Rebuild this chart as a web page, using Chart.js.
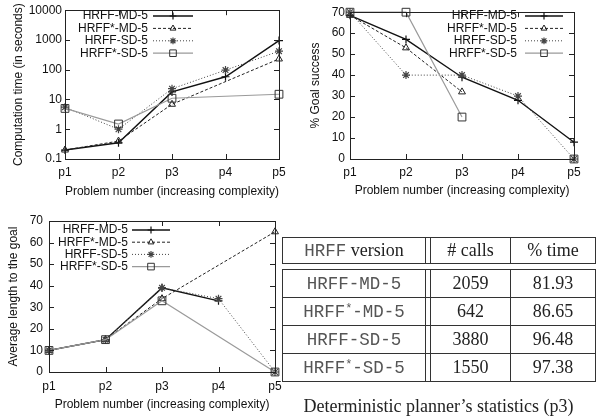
<!DOCTYPE html>
<html>
<head>
<meta charset="utf-8">
<script src="https://cdn.jsdelivr.net/npm/chart.js@4/dist/chart.umd.min.js"></script>
<style>
  html, body { margin: 0; padding: 0; background: #fff; }
  body { width: 597px; height: 417px; position: relative; overflow: hidden; }
  canvas { position: absolute; }
  #tbl { position: absolute; left: 282px; top: 237px; }
  #tbl table { border-collapse: collapse; table-layout: fixed; font-family: "Liberation Serif", serif; font-size: 18px; color: #222; }
  #tbl td { border: 1px solid #333; padding: 0; text-align: center; vertical-align: middle; }
  #tbl .mono { font-family: "Liberation Mono", monospace; font-size: 17.5px; color: #555; }
  #tbl sup { font-size: 12px; vertical-align: 5px; line-height: 0; }
  #caption { position: absolute; left: 282px; width: 313px; top: 396px; text-align: center;
             font-family: "Liberation Serif", serif; font-size: 18px; line-height: 20px; color: #222; }
</style>
</head>
<body>
<canvas id="timeChart" width="300" height="205" style="left:0;top:0"></canvas>
<canvas id="goalChart" width="302" height="205" style="left:295px;top:0"></canvas>
<canvas id="lengthChart" width="300" height="212" style="left:0;top:205px"></canvas>
<div id="tbl"></div>
<div id="caption">Deterministic planner’s statistics (p3)</div>
<script>
// categories
const problems = ['p1', 'p2', 'p3', 'p4', 'p5'];
const seriesNames = ['HRFF-MD-5', 'HRFF*-MD-5', 'HRFF-SD-5', 'HRFF*-SD-5'];

// computation time (seconds, log scale)
const timeTicks = [0.1, 1, 10, 100, 1000, 10000];
const timeMD = [0.2, 0.35, 18, 58, 950];
const timeStarMD = [0.2, 0.4, 6.9, null, 230];
const timeSD = [5.5, 1.0, 23, 97, 420];
const timeStarSD = [5.0, 1.5, 11, null, 15];

// % goal success
const goalMD = [68.5, 57, 39, 28, 8];
const goalStarMD = [68.5, 53, 32, null, null];
const goalSD = [70, 40, 40, 30, 0];
const goalStarSD = [70, 70, 20, null, 0];

// average length to the goal
const lenMD = [10, 15, 39, 33, null];
const lenStarMD = [10, 15, 34, null, 65];
const lenSD = [10, 15, 39, 34, 0];
const lenStarSD = [10, 15, 33, null, 0];

// deterministic planner table
const tableVersions = ['HRFF-MD-5', 'HRFF*-MD-5', 'HRFF-SD-5', 'HRFF*-SD-5'];
const tableCalls = ['2059', '642', '3880', '1550'];
const tableTime = ['81.93', '86.65', '96.48', '97.38'];

const FONT = "'Liberation Sans', Arial, sans-serif";

// line styles per series
const styles = [
    { borderColor: '#111', borderWidth: 1.4, borderDash: [], pointStyle: 'cross', pointRadius: 4, pointBorderWidth: 1.2 },
    { borderColor: '#222', borderWidth: 1, borderDash: [3, 2], pointStyle: 'triangle', pointRadius: 4, pointBorderWidth: 1 },
    { borderColor: '#444', borderWidth: 1, borderDash: [1, 2], pointStyle: 'star', pointRadius: 4, pointBorderWidth: 1.2 },
    { borderColor: '#9a9a9a', borderWidth: 1.2, borderDash: [], pointStyle: 'rect', pointRadius: 5.5, pointBorderWidth: 1 }
];

function makeDatasets(arrays, gaps) {
    return arrays.map((data, i) => ({
        label: seriesNames[i],
        data: data,
        borderColor: styles[i].borderColor,
        borderWidth: styles[i].borderWidth,
        borderDash: styles[i].borderDash,
        pointStyle: styles[i].pointStyle,
        pointRadius: styles[i].pointRadius,
        pointBorderWidth: styles[i].pointBorderWidth,
        pointBorderColor: i === 3 ? '#333' : styles[i].borderColor,
        pointBackgroundColor: 'rgba(0,0,0,0)',
        backgroundColor: 'rgba(0,0,0,0)',
        spanGaps: gaps[i],
        tension: 0,
        clip: false,
        order: 3 - i
    }));
}

// box around plot with inward mirror ticks, and gnuplot-like key inside
const framePlugin = {
    id: 'frame',
    afterDraw(chart) {
        const { ctx, chartArea: { left, right, top, bottom }, scales: { x, y } } = chart;
        ctx.save();
        ctx.strokeStyle = '#222';
        ctx.lineWidth = 1;
        ctx.setLineDash([]);
        ctx.strokeRect(Math.round(left) + 0.5, Math.round(top) + 0.5, Math.round(right - left), Math.round(bottom - top));
        ctx.beginPath();
        x.ticks.forEach((t, i) => {
            const px = Math.round(x.getPixelForTick(i)) + 0.5;
            ctx.moveTo(px, bottom); ctx.lineTo(px, bottom - 5);
            ctx.moveTo(px, top); ctx.lineTo(px, top + 5);
        });
        y.ticks.forEach((t, i) => {
            const py = Math.round(y.getPixelForTick(i)) + 0.5;
            ctx.moveTo(left, py); ctx.lineTo(left + 5, py);
            ctx.moveTo(right, py); ctx.lineTo(right - 5, py);
        });
        ctx.stroke();

        const key = chart.options.plugins.frame;
        ctx.font = '12px ' + FONT;
        ctx.fillStyle = '#111';
        ctx.textAlign = 'right';
        ctx.textBaseline = 'middle';
        chart.data.datasets.forEach((ds, i) => {
            const ky = key.top + i * key.rowH;
            ctx.fillText(ds.label, key.textRight, ky);
            ctx.save();
            ctx.strokeStyle = ds.borderColor;
            ctx.lineWidth = ds.borderWidth;
            ctx.setLineDash(ds.borderDash);
            ctx.beginPath();
            ctx.moveTo(key.lineStart, ky);
            ctx.lineTo(key.lineEnd, ky);
            ctx.stroke();
            ctx.restore();
            ctx.save();
            ctx.strokeStyle = ds.pointBorderColor;
            ctx.fillStyle = 'rgba(0,0,0,0)';
            ctx.lineWidth = ds.pointBorderWidth;
            Chart.helpers.drawPoint(ctx, { pointStyle: ds.pointStyle, radius: ds.pointRadius * 0.85, borderWidth: ds.pointBorderWidth },
                (key.lineStart + key.lineEnd) / 2, ky);
            ctx.restore();
        });
        ctx.restore();
    }
};

function buildChart(id, arrays, gaps, yOpts, box, key) {
    const ctx = document.getElementById(id).getContext('2d');
    return new Chart(ctx, {
        type: 'line',
        data: { labels: problems, datasets: makeDatasets(arrays, gaps) },
        options: {
            responsive: false,
            devicePixelRatio: 1,
            animation: false,
            layout: { padding: { left: 0, top: box.top, right: box.right, bottom: 0 } },
            plugins: { legend: { display: false }, tooltip: { enabled: false }, frame: key },
            scales: {
                x: {
                    type: 'category',
                    offset: false,
                    grid: { display: false, drawTicks: false },
                    border: { display: false },
                    ticks: { color: '#111', font: { family: FONT, size: 12 }, padding: box.xPad, maxRotation: 0 },
                    title: { display: true, text: 'Problem number (increasing complexity)', color: '#111',
                             font: { family: FONT, size: 12 }, padding: { top: 0, bottom: box.xTitlePad } },
                    afterFit(scale) { scale.height = box.xHeight; }
                },
                y: Object.assign({
                    grid: { display: false, drawTicks: false },
                    border: { display: false },
                    title: { display: true, text: yOpts.title, color: '#111',
                             font: { family: FONT, size: 12 }, padding: { top: box.yTitlePad, bottom: 0 } },
                    afterFit(scale) { scale.width = box.yWidth; }
                }, yOpts.scale)
            }
        },
        plugins: [framePlugin]
    });
}

document.addEventListener('DOMContentLoaded', function() {
    buildChart('timeChart',
        [timeMD, timeStarMD, timeSD, timeStarSD], [false, true, false, true],
        {
            title: 'Computation time (in seconds)',
            scale: {
                type: 'logarithmic', min: 0.1, max: 10000,
                afterBuildTicks(scale) { scale.ticks = timeTicks.map(v => ({ value: v })); },
                ticks: { color: '#111', font: { family: FONT, size: 12 }, padding: 3, callback: v => String(v) }
            }
        },
        { top: 7, right: 21, yWidth: 65, xHeight: 46, xPad: 6, xTitlePad: 6, yTitlePad: 11 },
        { textRight: 148, lineStart: 153, lineEnd: 193, top: 16, rowH: 12.4 });

    buildChart('goalChart',
        [goalMD, goalStarMD, goalSD, goalStarSD], [false, false, false, false],
        {
            title: '% Goal success',
            scale: {
                type: 'linear', min: 0, max: 70,
                ticks: { stepSize: 10, color: '#111', font: { family: FONT, size: 12 }, padding: 5 }
            }
        },
        { top: 8, right: 23, yWidth: 55, xHeight: 46, xPad: 6, xTitlePad: 7, yTitlePad: 13 },
        { textRight: 222, lineStart: 230, lineEnd: 268, top: 16, rowH: 12.4 });

    buildChart('lengthChart',
        [lenMD, lenStarMD, lenSD, lenStarSD], [false, true, false, true],
        {
            title: 'Average length to the goal',
            scale: {
                type: 'linear', min: 0, max: 70,
                ticks: { stepSize: 10, color: '#111', font: { family: FONT, size: 12 }, padding: 6 }
            }
        },
        { top: 16, right: 25, yWidth: 49, xHeight: 45, xPad: 7, xTitlePad: 5, yTitlePad: 6 },
        { textRight: 128, lineStart: 132, lineEnd: 170, top: 25, rowH: 12.2 });

    // statistics table
    const mono = s => '<span class="mono">' + s.replace('*', '<sup>*</sup>') + '</span>';
    const cols = '<colgroup><col style="width:143px"><col style="width:5px"><col style="width:80px"><col style="width:85px"></colgroup>';
    let html = '<table style="width:313px">' + cols +
        '<tr style="height:26px"><td>' + mono('HRFF') + ' version</td><td></td><td># calls</td><td>% time</td></tr></table>';
    html += '<table style="width:313px;margin-top:5px">' + cols;
    tableVersions.forEach((v, i) => {
        html += '<tr style="height:28px"><td>' + mono(v) + '</td><td></td><td>' + tableCalls[i] + '</td><td>' + tableTime[i] + '</td></tr>';
    });
    html += '</table>';
    document.getElementById('tbl').innerHTML = html;
});
</script>
</body>
</html>
